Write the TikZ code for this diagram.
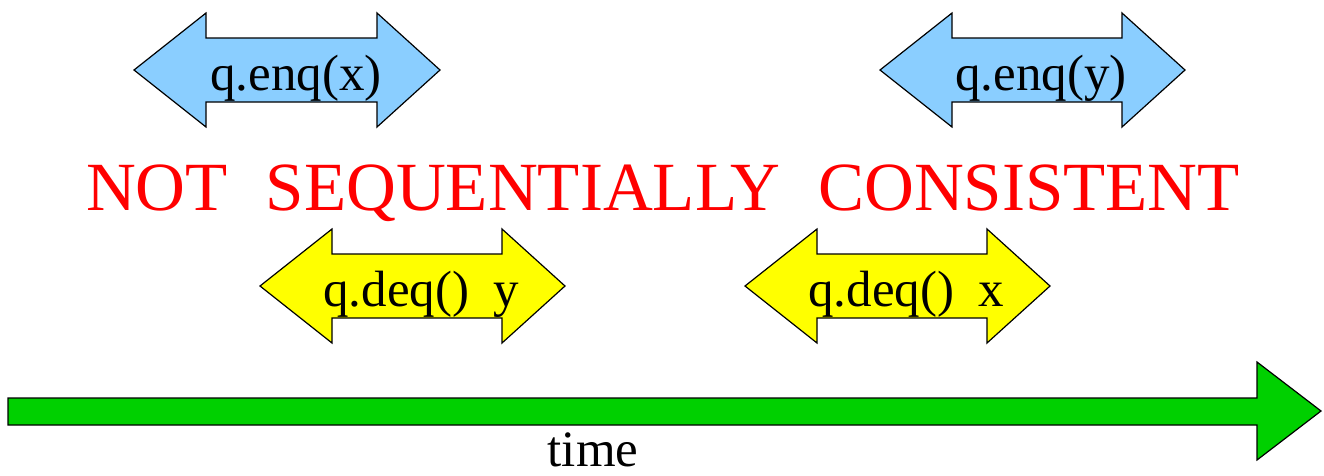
\documentclass[tikz,border=0pt]{standalone}
\usepackage{fontspec}
\setmainfont{Liberation Serif}
\definecolor{qblue}{RGB}{138,206,255}
\definecolor{qyellow}{RGB}{255,255,0}
\definecolor{qgreen}{RGB}{0,208,0}
\definecolor{qred}{RGB}{255,0,0}
\newcommand\dblarrowshape[5]{% fill, L, R, cy, name
  \path[arrowbox, fill=#1] (#2,#4) -- (#2+72,#4-57) -- (#2+72,#4-32) -- (#3-63,#4-32) -- (#3-63,#4-57)
    -- (#3,#4) -- (#3-63,#4+57) -- (#3-63,#4+32) -- (#2+72,#4+32) -- (#2+72,#4+57) -- cycle;
  \coordinate (#5) at ({(#2+#3)/2},#4);
}
\begin{document}
\begin{tikzpicture}[x=1pt,y=-1pt,
  arrowbox/.style={draw=black, line width=1.2pt, line join=miter},
  lbl/.style={inner sep=0pt, anchor=base, font=\fontsize{51}{58}\selectfont},
  title/.style={inner sep=0pt, anchor=base, text=qred, font=\fontsize{69}{80}\selectfont}]
\useasboundingbox (0,0) rectangle (1324,475);
% operations
\dblarrowshape{qblue}{134}{440}{70}{enqx}
\dblarrowshape{qblue}{880}{1185}{70}{enqy}
\dblarrowshape{qyellow}{260}{565}{286}{deqy}
\dblarrowshape{qyellow}{745}{1050}{286}{deqx}
\node[lbl] (tenqx) at (296,90) {q.enq(x)};
\node[lbl] (tenqy) at (1041,90) {q.enq(y)};
\node[lbl] (tdeqy) at (421,306) {q.deq()\hspace{24pt}y};
\node[lbl] (tdeqx) at (906,306) {q.deq()\hspace{24pt}x};
% title
\node[title] (nsc) at (663,210) {NOT\hspace{38pt}SEQUENTIALLY\hspace{38pt}CONSISTENT};
% time arrow
\path[arrowbox, fill=qgreen] (8,398) -- (1257,398) -- (1257,362) -- (1321,411) -- (1257,460) -- (1257,425) -- (8,425) -- cycle;
\node[lbl] (time) at (593,466) {time};
\end{tikzpicture}
\end{document}
